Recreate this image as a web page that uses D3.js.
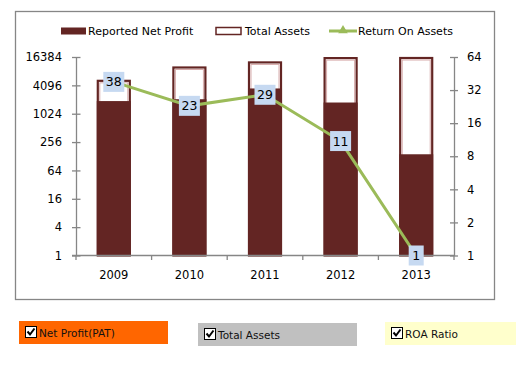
<!DOCTYPE html>
<html>
<head>
<meta charset="utf-8">
<script src="https://cdn.jsdelivr.net/npm/d3@7"></script>
<style>
  body { margin: 0; background: #fff; }
  text { font-family: "DejaVu Sans", sans-serif; }
</style>
</head>
<body>
<div id="chart"></div>
<script>
// chart data
var years = ["2009", "2010", "2011", "2012", "2013"];
var netProfit = [1900, 2080, 3520, 1770, 141];
var totalAssets = [5370, 10300, 13200, 16300, 16384];
var roa = [38, 23, 29, 11, 1];
var leftTicks = [1, 4, 16, 64, 256, 1024, 4096, 16384];
var rightTicks = [1, 2, 4, 8, 16, 32, 64];
var legendNames = ["Reported Net Profit", "Total Assets", "Return On Assets"];
var checkNames = ["Net Profit(PAT)", "Total Assets", "ROA Ratio"];

var maroon = "#632523",
    green = "#9BBB59",
    axisGrey = "#868686";

var svg = d3.select("#chart").append("svg")
    .attr("width", 526)
    .attr("height", 376);

// outer frame
svg.append("rect")
    .attr("x", 15.5).attr("y", 11.5)
    .attr("width", 479).attr("height", 288)
    .attr("fill", "#fff")
    .attr("stroke", axisGrey)
    .attr("stroke-width", 1.3);

var plot = {left: 76, right: 454, top: 57, bottom: 255.5};

var x = d3.scaleBand()
    .domain(years)
    .range([plot.left, plot.right])
    .paddingInner(0.55)
    .paddingOuter(0.275);

var yL = d3.scaleLog().base(2)
    .domain([1, 16384])
    .range([plot.bottom, plot.top]);

var yR = d3.scaleLog().base(2)
    .domain([1, 64])
    .range([plot.bottom, plot.top]);

// total assets bars (outlined)
var g = svg.append("g");
g.selectAll(".asset").data(years).enter().append("rect")
    .attr("class", "asset")
    .attr("x", function(d) { return x(d) + 1; })
    .attr("y", function(d, i) { return yL(totalAssets[i]) + 1; })
    .attr("width", x.bandwidth() - 2)
    .attr("height", function(d, i) { return plot.bottom - yL(totalAssets[i]) - 1; })
    .attr("fill", "#fff")
    .attr("stroke", maroon)
    .attr("stroke-width", 2.2);

g.selectAll(".assetInner").data(years).enter().append("rect")
    .attr("class", "assetInner")
    .attr("x", function(d) { return x(d) + 3; })
    .attr("y", function(d, i) { return yL(totalAssets[i]) + 3; })
    .attr("width", x.bandwidth() - 6)
    .attr("height", function(d, i) { return plot.bottom - yL(totalAssets[i]) - 3; })
    .attr("fill", "none")
    .attr("stroke", "#d7abab")
    .attr("stroke-width", 1);

// net profit bars
g.selectAll(".profit").data(years).enter().append("rect")
    .attr("class", "profit")
    .attr("x", function(d) { return x(d); })
    .attr("y", function(d, i) { return yL(netProfit[i]); })
    .attr("width", x.bandwidth())
    .attr("height", function(d, i) { return plot.bottom - yL(netProfit[i]); })
    .attr("fill", maroon);

// axes
function styleAxis(sel) {
    sel.select(".domain").attr("stroke", axisGrey).attr("stroke-width", 1.3);
    sel.selectAll(".tick line").attr("stroke", axisGrey).attr("stroke-width", 1.3);
    sel.selectAll(".tick text").attr("fill", "#000").style("font-size", "11.5px");
}

var leftAxis = svg.append("g")
    .attr("transform", "translate(" + plot.left + ",0)")
    .call(d3.axisLeft(yL).tickValues(leftTicks).tickFormat(d3.format("d"))
        .tickSizeOuter(0).tickSizeInner(4).tickPadding(10));
leftAxis.selectAll(".tick line").attr("x1", 4.5);
styleAxis(leftAxis);

var rightAxis = svg.append("g")
    .attr("transform", "translate(" + plot.right + ",0)")
    .call(d3.axisRight(yR).tickValues(rightTicks).tickFormat(d3.format("d"))
        .tickSizeOuter(0).tickSizeInner(4).tickPadding(9));
rightAxis.selectAll(".tick line").attr("x1", -4);
styleAxis(rightAxis);

var bottomAxis = svg.append("g")
    .attr("transform", "translate(0," + plot.bottom + ")")
    .call(d3.axisBottom(x).tickSize(0).tickPadding(15));
bottomAxis.select(".domain").remove();
bottomAxis.selectAll(".tick text").attr("fill", "#000").style("font-size", "11.5px");
bottomAxis.append("line")
    .attr("x1", plot.left - 4).attr("x2", plot.right)
    .attr("stroke", axisGrey).attr("stroke-width", 1.3);
bottomAxis.selectAll(".sep").data(d3.range(years.length + 1)).enter().append("line")
    .attr("x1", function(i) { return plot.left + i * x.step(); })
    .attr("x2", function(i) { return plot.left + i * x.step(); })
    .attr("y1", 0).attr("y2", 4.5)
    .attr("stroke", axisGrey).attr("stroke-width", 1.3);

// ROA line
var line = d3.line()
    .x(function(d, i) { return x(years[i]) + x.bandwidth() / 2; })
    .y(function(d) { return yR(d); });

svg.append("path")
    .datum(roa)
    .attr("d", line)
    .attr("fill", "none")
    .attr("stroke", green)
    .attr("stroke-width", 3);

// data labels
var lab = svg.selectAll(".lab").data(roa).enter().append("g")
    .attr("class", "lab")
    .attr("transform", function(d, i) {
        return "translate(" + (x(years[i]) + x.bandwidth() / 2) + "," + yR(d) + ")";
    });
lab.append("rect")
    .attr("x", function(d) { return d < 10 ? -7.5 : -10.5; })
    .attr("y", -10)
    .attr("width", function(d) { return d < 10 ? 15 : 21; })
    .attr("height", 20)
    .attr("fill", "#C6D9F1");
lab.append("text")
    .attr("text-anchor", "middle")
    .attr("dy", "0.36em")
    .style("font-size", "12.5px")
    .attr("fill", "#000")
    .text(function(d) { return d; });

// legend
var leg = svg.append("g").style("font-size", "11px");
leg.append("rect").attr("x", 61).attr("y", 27.5).attr("width", 25).attr("height", 7).attr("fill", maroon);
leg.append("text").attr("x", 88).attr("y", 35).text(legendNames[0]);
leg.append("rect").attr("x", 216).attr("y", 27.5).attr("width", 25).attr("height", 7)
    .attr("fill", "#fff").attr("stroke", maroon).attr("stroke-width", 1.5);
leg.append("text").attr("x", 245).attr("y", 35).text(legendNames[1]);
leg.append("line").attr("x1", 329).attr("x2", 357).attr("y1", 31).attr("y2", 31)
    .attr("stroke", green).attr("stroke-width", 3);
leg.append("path").attr("d", d3.symbol(d3.symbolTriangle, 40)())
    .attr("transform", "translate(343,30.5)").attr("fill", green);
leg.append("text").attr("x", 358).attr("y", 35).text(legendNames[2]);

// checkbox controls
var boxes = [
    {x: 19, y: 321, w: 149, fill: "#FF6600"},
    {x: 198, y: 323, w: 159, fill: "#C0C0C0"},
    {x: 385, y: 322, w: 131, fill: "#FFFFCC"}
];
var cb = svg.selectAll(".cb").data(boxes).enter().append("g")
    .attr("class", "cb")
    .attr("transform", function(d) { return "translate(" + d.x + "," + d.y + ")"; });
cb.append("rect").attr("width", function(d) { return d.w; }).attr("height", 23)
    .attr("fill", function(d) { return d.fill; });
cb.append("rect").attr("x", 6.5).attr("y", 5.5).attr("width", 11).attr("height", 11)
    .attr("fill", "#fff").attr("stroke", "#000").attr("stroke-width", 1);
cb.append("path").attr("d", "M8.5,10.5 L11,13.5 L15.5,7.5")
    .attr("fill", "none").attr("stroke", "#000").attr("stroke-width", 2);
cb.append("text").attr("x", 20).attr("y", 16)
    .style("font-size", "10.5px").attr("fill", "#111")
    .text(function(d, i) { return checkNames[i]; });
</script>
</body>
</html>
